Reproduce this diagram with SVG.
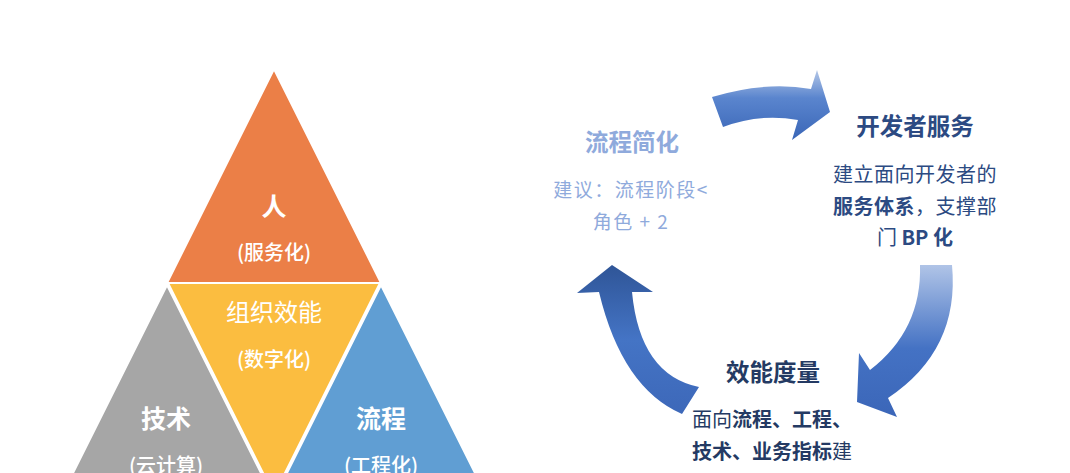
<svg xmlns="http://www.w3.org/2000/svg" width="1070" height="473" viewBox="0 0 1070 473">
  <defs>
    <linearGradient id="gTop" x1="0" y1="70" x2="0" y2="140" gradientUnits="userSpaceOnUse">
      <stop offset="0" stop-color="#B4C7E7"/>
      <stop offset="0.4" stop-color="#5A85CE"/>
      <stop offset="1" stop-color="#3A66B7"/>
    </linearGradient>
    <linearGradient id="gRight" x1="0" y1="265" x2="0" y2="417" gradientUnits="userSpaceOnUse">
      <stop offset="0" stop-color="#B0C4E7"/>
      <stop offset="0.55" stop-color="#4472C4"/>
      <stop offset="1" stop-color="#3B66B8"/>
    </linearGradient>
    <linearGradient id="gLeft" x1="0" y1="265" x2="0" y2="414" gradientUnits="userSpaceOnUse">
      <stop offset="0" stop-color="#2F5597"/>
      <stop offset="0.5" stop-color="#4474C5"/>
      <stop offset="1" stop-color="#3D68B9"/>
    </linearGradient>
  </defs>
  <style>
    text { font-family: "Noto Sans CJK SC", "Noto Sans", sans-serif; }
    .tri { stroke: #FFFFFF; stroke-width: 2; stroke-linejoin: miter; }
    .w { fill: #FFFFFF; text-anchor: middle; }
    .big { font-size: 25px; font-weight: 700; }
    .mid { font-size: 24px; font-weight: 400; }
    .sub { font-size: 20px; font-weight: 500; }
    .ttl { font-size: 23.5px; font-weight: 700; text-anchor: middle; }
    .body { font-size: 20px; font-weight: 400; }
    .b { font-weight: 700; }
    .light { fill: #8FAADC; }
    .blue { fill: #2C4A82; }
    .navy { fill: #243A63; }
  </style>
  <rect x="0" y="0" width="1070" height="473" fill="#FFFFFF"/>

  <g id="pyramid">
    <g id="node-people">
      <polygon class="tri" points="274,69 167,283 381,283" fill="#EB7F47"/>
      <text class="w big" x="274" y="216">人</text>
      <text class="w sub" x="274" y="260">(服务化)</text>
    </g>
    <g id="node-org">
      <polygon class="tri" points="168,283 380,283 274,495" fill="#FBBD40"/>
      <text class="w mid" x="274" y="321">组织效能</text>
      <text class="w sub" x="274" y="367">(数字化)</text>
    </g>
    <g id="node-tech">
      <polygon class="tri" points="167,285 60,499 274,499" fill="#A6A6A6"/>
      <text class="w big" x="166" y="428">技术</text>
      <text class="w sub" x="166" y="473">(云计算)</text>
    </g>
    <g id="node-process">
      <polygon class="tri" points="381,285 274,499 488,499" fill="#609ED3"/>
      <text class="w big" x="381" y="428">流程</text>
      <text class="w sub" x="381" y="473">(工程化)</text>
    </g>
  </g>

  <g id="connectors">
    <path d="M712,97 Q765,81 811,89 L817,70 L830,112 L792,140 L798,120 Q760,113 723,127 Z" fill="url(#gTop)"/>
    <path d="M920,265 L952,265 Q960,350 888,398 L897,417 L857,402 L859,353 L870,370 Q922,330 920,265 Z" fill="url(#gRight)"/>
    <path d="M612,265 L653,292 L632,292 Q640,375 699,387 L682,414 Q622,388 599,292 L577,293 Z" fill="url(#gLeft)"/>
  </g>

  <g id="node-simplify">
    <text class="ttl light" x="632" y="151">流程简化</text>
    <text class="light" x="631" y="197" font-size="19" text-anchor="middle" letter-spacing="1.5">建议：流程阶段&lt;</text>
    <text class="light" x="631" y="229" font-size="19" text-anchor="middle" letter-spacing="1.5">角色 + 2</text>
  </g>

  <g id="node-devservice">
    <text class="ttl blue" x="915" y="135">开发者服务</text>
    <text class="body blue" x="915" y="182" text-anchor="middle" letter-spacing="0.5">建立面向开发者的</text>
    <text class="body blue" x="915" y="214" text-anchor="middle" letter-spacing="0.5"><tspan class="b">服务体系</tspan>，支撑部</text>
    <text class="body blue" x="915" y="245" text-anchor="middle">门 <tspan class="b">BP 化</tspan></text>
  </g>

  <g id="node-metrics">
    <text class="ttl navy" x="773" y="381">效能度量</text>
    <text class="body navy" x="692" y="427">面向<tspan class="b">流程、工程、</tspan></text>
    <text class="body navy" x="692" y="459"><tspan class="b">技术、业务指标</tspan>建</text>
  </g>
</svg>
